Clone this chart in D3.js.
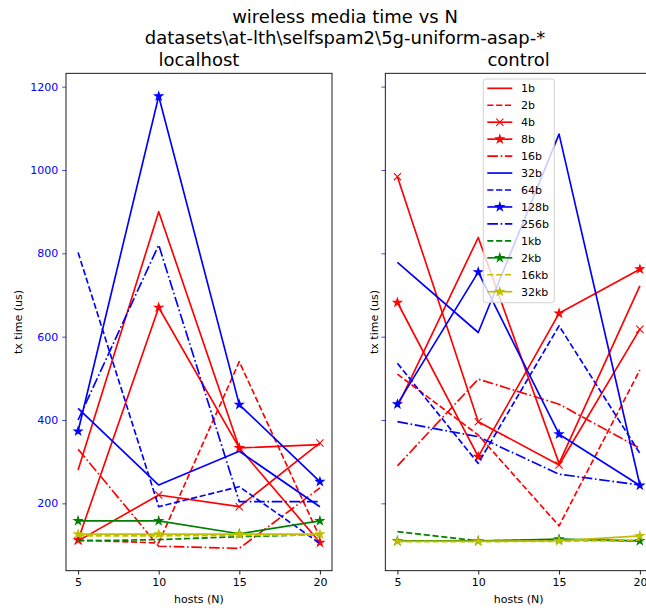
<!DOCTYPE html>
<html>
<head>
<meta charset="utf-8">
<script src="https://cdn.jsdelivr.net/npm/d3@7"></script>
<style>
  html, body { margin: 0; padding: 0; background: #ffffff; }
  svg { display: block; font-family: "DejaVu Sans", sans-serif; }
</style>
</head>
<body>
<svg id="chart" width="646" height="610"></svg>
<script>
// hosts on the x axis
const HOSTS = [5, 10, 15, 20];
const Y_TICKS = [200, 400, 600, 800, 1000, 1200];

// series names, same order as the legend
const SERIES = ["1b", "2b", "4b", "8b", "16b", "32b", "64b", "128b", "256b", "1kb", "2kb", "16kb", "32kb"];
const COLORS = ["r", "r", "r", "r", "r", "b", "b", "b", "b", "g", "g", "y", "y"];
const STYLES = ["-", "--", "x", "*", "-.", "-", "--", "*", "-.", "--", "*", "--", "*"];

// tx time (us) per series
const LOCALHOST = [
  [280, 900, 333, 341],
  [112, 105, 540, 118],
  [110, 220, 192, 345],
  [112, 670, 333, 106],
  [330, 97, 92, 237],
  [428, 244, 325, 192],
  [802, 192, 240, 104],
  [373, 1177, 437, 252],
  [400, 820, 204, 204],
  [110, 113, 120, 125],
  [158, 158, 127, 158],
  [122, 122, 123, 124],
  [126, 126, 126, 126],
];

// tx time (us) per series, control panel
const CONTROL = [
  [432, 838, 296, 722],
  [510, 364, 146, 520],
  [984, 396, 292, 618],
  [682, 312, 656, 762],
  [290, 498, 438, 332],
  [778, 610, 1086, 244],
  [536, 296, 626, 320],
  [438, 755, 366, 243],
  [396, 360, 270, 244],
  [132, 110, 112, 110],
  [110, 110, 114, 110],
  [108, 108, 109, 112],
  [109, 109, 110, 122],
];

const COLOR_MAP = { r: "#ff0000", b: "#0000ff", g: "#008000", y: "#bfbf00" };
const PT = 1.11; // px per pt
const LW = 1.5 * PT;
const FONT = 11;
const TITLE_FONT = 18;

const svg = d3.select("#chart");

const y = d3.scaleLinear().domain([38.4, 1232]).range([570.7, 73.3]);

const panels = [
  { name: "localhost", data: LOCALHOST, x0: 66, x1: 332, labels: true },
  { name: "control", data: CONTROL, x0: 385.3, x1: 652, labels: false },
];

function dashFor(style) {
  if (style === "--") {
    return `${3.7 * LW},${1.6 * LW}`;
  }
  if (style === "-.") {
    return `${6.4 * LW},${1.6 * LW},${1 * LW},${1.6 * LW}`;
  }
  return null;
}

const starPath = d3.symbol().type(d3.symbolStar).size(20)();

function drawMarker(g, style, color, px, py) {
  if (style === "x") {
    const r = 3.6;
    g.append("path")
      .attr("d", `M${px - r},${py - r}L${px + r},${py + r}M${px - r},${py + r}L${px + r},${py - r}`)
      .attr("stroke", color)
      .attr("stroke-width", 1.1)
      .attr("fill", "none");
  } else if (style === "*") {
    g.append("path")
      .attr("d", starPath)
      .attr("transform", `translate(${px},${py})`)
      .attr("fill", color)
      .attr("stroke", color)
      .attr("stroke-width", 1.1)
      .attr("stroke-linejoin", "miter");
  }
}

panels.forEach((p, pi) => {
  const x = d3.scaleLinear().domain([4.25, 20.75]).range([p.x0, p.x1]);
  const g = svg.append("g");

  const clipId = `clip${pi}`;
  svg.append("clipPath").attr("id", clipId)
    .append("rect")
    .attr("x", p.x0).attr("y", y.range()[1])
    .attr("width", p.x1 - p.x0).attr("height", y.range()[0] - y.range()[1]);

  const plot = g.append("g").attr("clip-path", `url(#${clipId})`);
  const line = d3.line().x((d, i) => x(HOSTS[i])).y((d) => y(d));

  p.data.forEach((vals, si) => {
    const color = COLOR_MAP[COLORS[si]];
    const style = STYLES[si];
    plot.append("path")
      .datum(vals)
      .attr("d", line)
      .attr("fill", "none")
      .attr("stroke", color)
      .attr("stroke-width", LW)
      .attr("stroke-dasharray", dashFor(style))
      .attr("stroke-linejoin", "round");
    if (style === "x" || style === "*") {
      vals.forEach((v, i) => drawMarker(plot, style, color, x(HOSTS[i]), y(v)));
    }
  });

  // axes
  const xAxis = d3.axisBottom(x).tickValues(HOSTS).tickSize(3.5 * PT).tickPadding(3.5 * PT);
  const gx = g.append("g").attr("transform", `translate(0,${y.range()[0]})`).call(xAxis);
  gx.select(".domain").remove();
  gx.selectAll("line").attr("stroke", "#000").attr("stroke-width", 0.8 * PT);
  gx.selectAll("text").attr("font-size", FONT).attr("font-family", "DejaVu Sans").attr("fill", "#000");

  const yAxis = d3.axisLeft(y).tickValues(Y_TICKS).tickSize(3.5 * PT).tickPadding(3.5 * PT)
    .tickFormat(p.labels ? d3.format("d") : () => "");
  const gy = g.append("g").attr("transform", `translate(${p.x0},0)`).call(yAxis);
  gy.select(".domain").remove();
  gy.selectAll("line").attr("stroke", "#0000ff").attr("stroke-width", 0.8 * PT).attr("opacity", 0.8);
  gy.selectAll("text").attr("font-size", FONT).attr("font-family", "DejaVu Sans").attr("fill", "#0000ff");

  // frame
  g.append("rect")
    .attr("x", p.x0).attr("y", y.range()[1])
    .attr("width", p.x1 - p.x0).attr("height", y.range()[0] - y.range()[1])
    .attr("fill", "none").attr("stroke", "#000").attr("stroke-width", 0.8 * PT);

  // labels
  g.append("text")
    .attr("x", (p.x0 + p.x1) / 2).attr("y", 603)
    .attr("text-anchor", "middle").attr("font-size", FONT)
    .text("hosts (N)");
  const yl = p.labels ? 22 : 378;
  g.append("text")
    .attr("transform", `translate(${yl},${(y.range()[0] + y.range()[1]) / 2}) rotate(-90)`)
    .attr("text-anchor", "middle").attr("font-size", FONT)
    .text("tx time (us)");
  g.append("text")
    .attr("x", (p.x0 + p.x1) / 2).attr("y", 66)
    .attr("text-anchor", "middle").attr("font-size", TITLE_FONT)
    .text(p.name);
});

// figure title
svg.append("text").attr("x", 345).attr("y", 23).attr("text-anchor", "middle").attr("font-size", TITLE_FONT)
  .text("wireless media time vs N");
svg.append("text").attr("x", 345).attr("y", 44).attr("text-anchor", "middle").attr("font-size", TITLE_FONT)
  .text("datasets\\at-lth\\selfspam2\\5g-uniform-asap-*");

// legend in the control panel
const lg = svg.append("g");
lg.append("rect")
  .attr("x", 483.3).attr("y", 79).attr("width", 71).attr("height", 223.7)
  .attr("rx", 2.5)
  .attr("fill", "#ffffff").attr("fill-opacity", 0.8)
  .attr("stroke", "#cccccc").attr("stroke-width", 0.8 * PT);

SERIES.forEach((name, si) => {
  const cy = 88.3 + si * 16.95;
  const color = COLOR_MAP[COLORS[si]];
  const style = STYLES[si];
  lg.append("line")
    .attr("x1", 487.3).attr("x2", 512.3).attr("y1", cy).attr("y2", cy)
    .attr("stroke", color).attr("stroke-width", LW)
    .attr("stroke-dasharray", dashFor(style));
  if (style === "x" || style === "*") {
    drawMarker(lg, style, color, 499.8, cy);
  }
  lg.append("text")
    .attr("x", 521).attr("y", cy + 4)
    .attr("font-size", FONT)
    .text(name);
});
</script>
</body>
</html>
